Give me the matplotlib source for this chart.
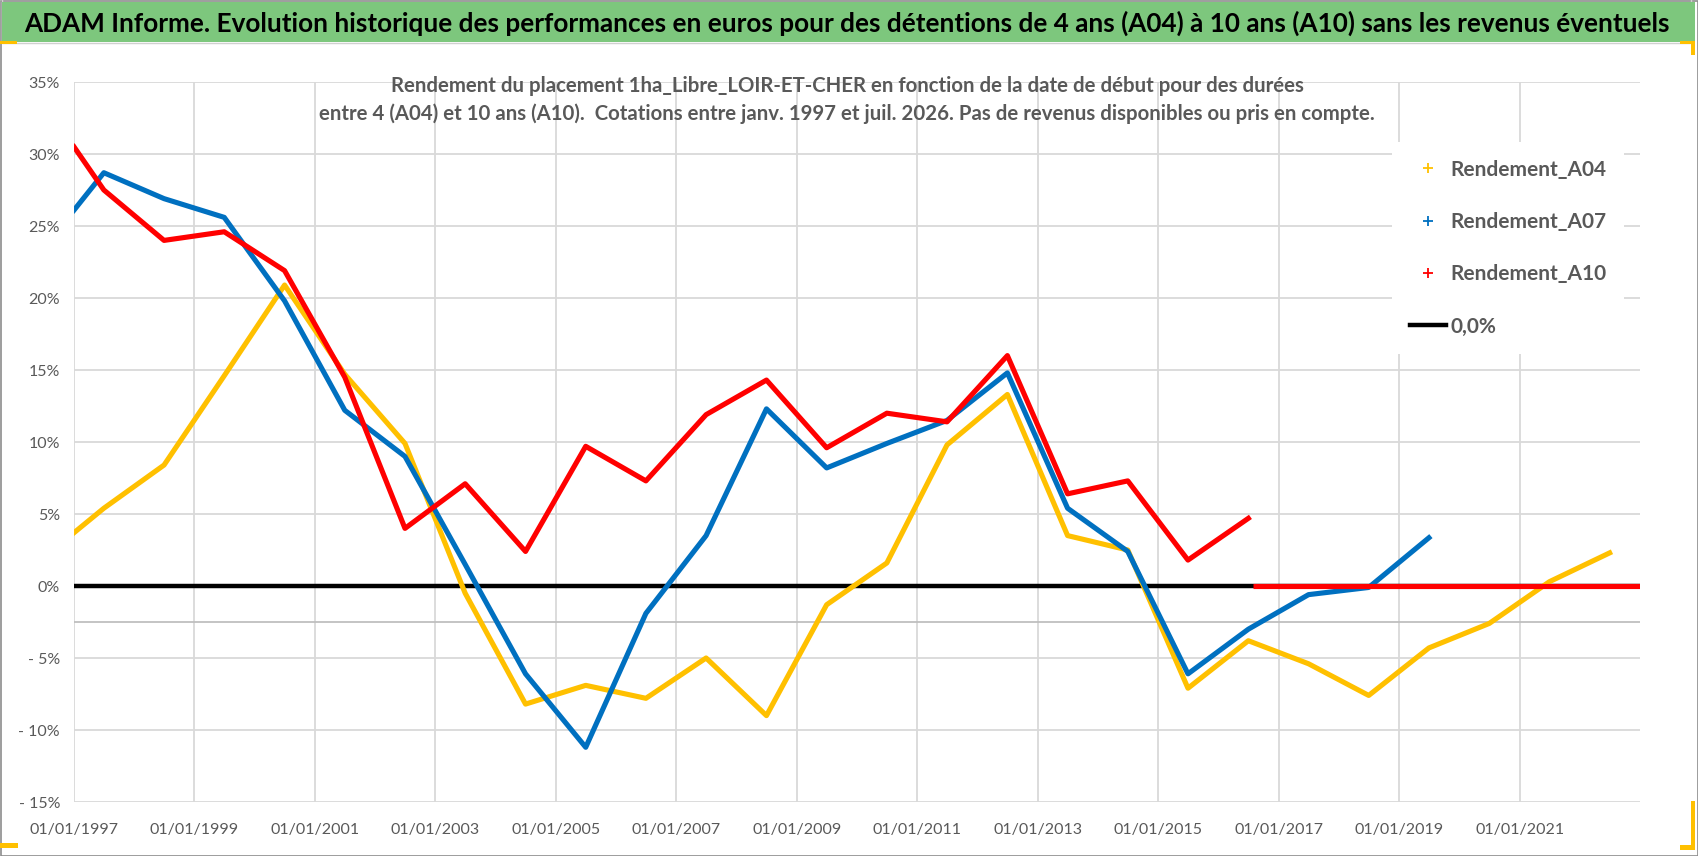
"""ADAM Informe - rendement 1ha_Libre_LOIR-ET-CHER, durées 4 à 10 ans."""

import matplotlib

matplotlib.use("Agg")
import matplotlib.pyplot as plt
import matplotlib.dates as mdates
from matplotlib.lines import Line2D
from matplotlib.patches import Rectangle
import pandas as pd

W, H, DPI = 1698, 856, 100

# start dates: first quote Jan 1997, then one point each July
start_dates = ["1997-01-01"] + [f"{y}-07-01" for y in range(1997, 2023)]

rendement_a04 = [3.7, 5.4, 8.4, 14.6, 20.9, 14.7, 9.9, -0.5, -8.2, -6.9, -7.8, -5.0, -9.0,
                 -1.3, 1.6, 9.8, 13.3, 3.5, 2.5, -7.1, -3.8, -5.4, -7.6, -4.3, -2.6, 0.3, 2.3]
rendement_a07 = [26.1, 28.7, 26.9, 25.6, 19.8, 12.2, 9.0, 1.5, -6.1, -11.2, -1.9, 3.5, 12.3,
                 8.2, 9.9, 11.5, 14.8, 5.4, 2.4, -6.1, -3.0, -0.6, -0.1, 3.35]
rendement_a10 = [30.5, 27.5, 24.0, 24.6, 21.9, 14.5, 4.0, 7.1, 2.4, 9.7, 7.3, 11.9, 14.3,
                 9.6, 12.0, 11.4, 16.0, 6.4, 7.3, 1.8, 4.7]
# A10 has no value after mid-2016: shown at 0 until the end of the axis
a10_empty_period = ["2016-08-01", "2023-01-01"]
a10_empty_values = [0.0, 0.0]

zero_period = ["1997-01-01", "2023-01-01"]
zero_values = [0.0, 0.0]

series_names = ["Rendement_A04", "Rendement_A07", "Rendement_A10"]
series_colors = ["#FFC000", "#0070C0", "#FF0000"]

x_ticks = [f"{y}-01-01" for y in range(1997, 2022, 2)]
y_ticks = [-15, -10, -5, 0, 5, 10, 15, 20, 25, 30, 35]
y_tick_labels = ["- 15%", "- 10%", "- 5%", "0%", "5%", "10%", "15%", "20%", "25%", "30%", "35%"]

title = ("ADAM Informe. Evolution historique des performances en euros pour des détentions "
         "de 4 ans (A04) à 10 ans (A10) sans les revenus éventuels")
subtitle = ("Rendement du placement 1ha_Libre_LOIR-ET-CHER en fonction de la date de début pour des durées\n"
            "entre 4 (A04) et 10 ans (A10).  Cotations entre janv. 1997 et juil. 2026. "
            "Pas de revenus disponibles ou pris en compte.")

plt.rcParams["font.family"] = ["Lato", "DejaVu Sans"]
GREY_TEXT = "#595959"
GRID = "#D9D9D9"

fig = plt.figure(figsize=(W / DPI, H / DPI), dpi=DPI)
fig.patch.set_facecolor("white")

# frame, title band and the little selection handles of the original sheet
fig.patches.append(Rectangle((0.5 / W, 0.5 / H), (W - 1) / W, (H - 1) / H, transform=fig.transFigure,
                             fill=False, edgecolor="#8C8C8C", linewidth=1.2, zorder=0))
fig.patches.append(Rectangle((2 / W, 1 - 43 / H), (1689) / W, (800) / H, transform=fig.transFigure,
                             fill=False, edgecolor="#D0D0D0", linewidth=1.0, zorder=0))
fig.patches.append(Rectangle((2 / W, 1 - 42 / H), (1693) / W, 40 / H, transform=fig.transFigure,
                             facecolor="#7DC77D", edgecolor="none", zorder=1))
handle_boxes = [(0, 41, 17, 3), (1680, 41, 15, 3), (1691, 41, 4, 14),
                (0, 843, 18, 5), (1680, 845, 15, 5), (1691, 801, 4, 49)]
for hx, hy, hw, hh in handle_boxes:
    fig.patches.append(Rectangle((hx / W, 1 - (hy + hh) / H), hw / W, hh / H, transform=fig.transFigure,
                                 facecolor="#FFC000", edgecolor="none", zorder=2))

ax = fig.add_axes([74 / W, (H - 802) / H, (1640 - 74) / W, (802 - 82) / H])

ax.plot(pd.to_datetime(zero_period), zero_values, color="black", linewidth=3.2,
        solid_capstyle="butt", zorder=2)
for name, vals, col in zip(series_names, [rendement_a04, rendement_a07, rendement_a10], series_colors):
    dates = pd.to_datetime(start_dates[:len(vals)])
    ax.plot(dates, vals, color=col, linewidth=3.7, solid_joinstyle="round", zorder=3)
ax.plot(pd.to_datetime(a10_empty_period), a10_empty_values, color=series_colors[2],
        linewidth=3.7, solid_capstyle="butt", zorder=3)

ax.set_xlim(pd.Timestamp("1997-01-01"), pd.Timestamp("2023-01-01"))
ax.set_ylim(-15, 35)
ax.set_xticks(pd.to_datetime(x_ticks))
ax.xaxis.set_major_formatter(mdates.DateFormatter("%d/%m/%Y"))
ax.set_yticks(y_ticks)
ax.set_yticklabels(y_tick_labels)
ax.tick_params(axis="both", length=0, labelsize=11.5, labelcolor=GREY_TEXT)
ax.tick_params(axis="y", pad=10)
ax.tick_params(axis="x", pad=15)
ax.grid(True, color=GRID, linewidth=1.3, zorder=0)
ax.set_axisbelow(True)
# horizontal axis crosses the value axis at -2.5 %
ax.axhline(-2.5, color="#BFBFBF", linewidth=1.3, zorder=1)
for sp in ax.spines.values():
    sp.set_visible(False)

handles = [Line2D([], [], linestyle="none", marker="+", markersize=7, markeredgewidth=1.3, color=c)
           for c in series_colors]
handles.append(Line2D([], [], color="black", linewidth=3.2))
leg = ax.legend(handles, series_names + ["0,0%"], loc="upper left",
                bbox_to_anchor=(1392 / W, 1 - 142 / H), bbox_transform=fig.transFigure,
                frameon=True, fancybox=False, facecolor="white", edgecolor="none", framealpha=1,
                prop={"size": 15, "weight": "bold"}, labelcolor=GREY_TEXT,
                handlelength=1.75, handletextpad=0.2, labelspacing=1.55, borderpad=0.85,
                borderaxespad=0)
leg.set_zorder(5)

title_txt = fig.text(847 / W, 1 - 23 / H, title, ha="center", va="center",
                     fontsize=19, fontweight="bold", color="black", zorder=3)
sub_txt = fig.text(847 / W, 1 - 100 / H, subtitle, ha="center", va="center",
                   fontsize=14, fontweight="bold", color=GREY_TEXT, linespacing=1.45, zorder=4)


def fit_width(txt, target_px):
    fig.canvas.draw()
    w = txt.get_window_extent(fig.canvas.get_renderer()).width
    txt.set_fontsize(txt.get_fontsize() * target_px / w)


fit_width(title_txt, 1640)
fit_width(sub_txt, 1058)

fig.savefig("out.png", dpi=DPI)
